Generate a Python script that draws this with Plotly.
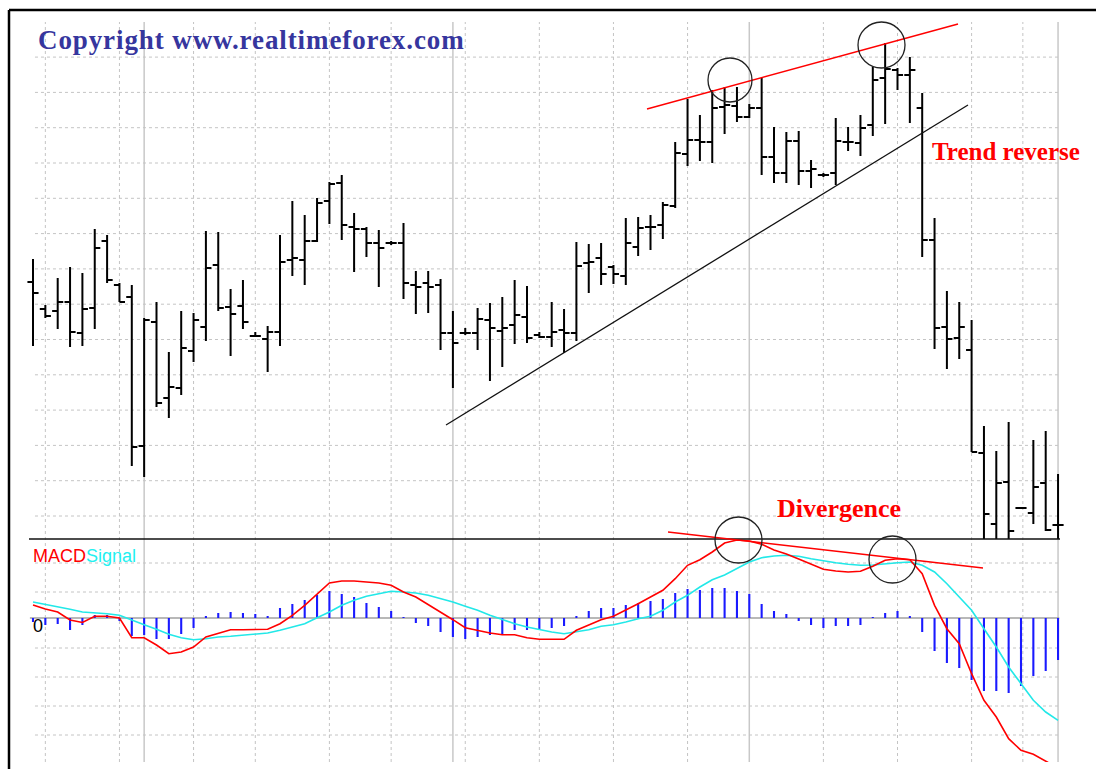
import plotly.graph_objects as go

# ---------------- data ----------------
bar_index = list(range(84))

open_price = [1.2318, 1.2291, 1.2289, 1.2298, 1.2267, 1.2292, 1.2359, 1.2315, 1.2303, 1.2154,
              1.2278, 1.2202, 1.2212, 1.2249, 1.2273, 1.2335, 1.2293, 1.2294, 1.2264, 1.2261,
              1.2268, 1.2340, 1.2340, 1.2359, 1.2399, 1.2417, 1.2373, 1.2371, 1.2357, 1.2357,
              1.2357, 1.2315, 1.2317, 1.2315, 1.2267, 1.2267, 1.2267, 1.2280, 1.2269, 1.2275,
              1.2283, 1.2265, 1.2263, 1.2270, 1.2267, 1.2337, 1.2342, 1.2333, 1.2324, 1.2353,
              1.2373, 1.2375, 1.2394, 1.2446, 1.2460, 1.2458, 1.2493, 1.2494, 1.2483, 1.2492,
              1.2443, 1.2427, 1.2459, 1.2429, 1.2425, 1.2427, 1.2458, 1.2457, 1.2475, 1.2522,
              1.2530, 1.2525, 1.2492, 1.2360, 1.2273, 1.2262, 1.2250, 1.2147, 1.2076, 1.2118,
              1.2092, 1.2087, 1.2117, 1.2075]
high_price = [1.2341, 1.2295, 1.2322, 1.2333, 1.2327, 1.2371, 1.2365, 1.2317, 1.2315, 1.2282,
              1.2298, 1.2248, 1.2289, 1.2287, 1.2369, 1.2368, 1.2311, 1.2320, 1.2268, 1.2274,
              1.2365, 1.2399, 1.2385, 1.2402, 1.2418, 1.2425, 1.2387, 1.2373, 1.2370, 1.2359,
              1.2377, 1.2329, 1.2329, 1.2321, 1.2289, 1.2272, 1.2292, 1.2297, 1.2303, 1.2320,
              1.2314, 1.2268, 1.2298, 1.2291, 1.2358, 1.2356, 1.2357, 1.2335, 1.2382, 1.2383,
              1.2385, 1.2398, 1.2458, 1.2501, 1.2485, 1.2510, 1.2513, 1.2513, 1.2496, 1.2522,
              1.2473, 1.2468, 1.2469, 1.2440, 1.2427, 1.2482, 1.2473, 1.2485, 1.2533, 1.2557,
              1.2532, 1.2543, 1.2507, 1.2382, 1.2309, 1.2298, 1.2280, 1.2174, 1.2149, 1.2178,
              1.2093, 1.2160, 1.2169, 1.2126]
low_price = [1.2254, 1.2282, 1.2271, 1.2253, 1.2254, 1.2271, 1.2317, 1.2298, 1.2134, 1.2123,
             1.2193, 1.2182, 1.2205, 1.2238, 1.2259, 1.2289, 1.2244, 1.2271, 1.2263, 1.2228,
             1.2254, 1.2324, 1.2315, 1.2358, 1.2376, 1.2360, 1.2328, 1.2343, 1.2313, 1.2355,
             1.2301, 1.2286, 1.2287, 1.2250, 1.2212, 1.2265, 1.2250, 1.2219, 1.2233, 1.2256,
             1.2257, 1.2262, 1.2253, 1.2247, 1.2259, 1.2307, 1.2315, 1.2316, 1.2315, 1.2344,
             1.2350, 1.2361, 1.2392, 1.2434, 1.2439, 1.2437, 1.2466, 1.2478, 1.2482, 1.2425,
             1.2417, 1.2417, 1.2415, 1.2412, 1.2423, 1.2415, 1.2449, 1.2444, 1.2464, 1.2476,
             1.2510, 1.2477, 1.2343, 1.2251, 1.2231, 1.2241, 1.2148, 1.2040, 1.2040, 1.2040,
             1.2091, 1.2076, 1.2069, 1.2040]
close_price = [1.2307, 1.2284, 1.2298, 1.2268, 1.2291, 1.2352, 1.2320, 1.2298, 1.2153, 1.2280,
               1.2197, 1.2213, 1.2252, 1.2280, 1.2332, 1.2292, 1.2286, 1.2278, 1.2264, 1.2268,
               1.2338, 1.2342, 1.2359, 1.2397, 1.2416, 1.2375, 1.2371, 1.2357, 1.2352, 1.2357,
               1.2317, 1.2313, 1.2313, 1.2267, 1.2257, 1.2267, 1.2281, 1.2272, 1.2272, 1.2285,
               1.2262, 1.2263, 1.2268, 1.2267, 1.2334, 1.2338, 1.2326, 1.2326, 1.2357, 1.2372,
               1.2373, 1.2395, 1.2447, 1.2460, 1.2458, 1.2492, 1.2495, 1.2483, 1.2492, 1.2443,
               1.2427, 1.2459, 1.2429, 1.2431, 1.2425, 1.2459, 1.2458, 1.2472, 1.2520, 1.2531,
               1.2525, 1.2530, 1.2360, 1.2272, 1.2261, 1.2273, 1.2148, 1.2086, 1.2117, 1.2069,
               1.2092, 1.2113, 1.2070, 1.2075]

macd = [1.3, 0.9, 0.6, -0.2, -0.45, 0.17, 0.17, 0.0, -1.97, -1.97,
        -2.7, -3.57, -3.4, -2.9, -1.9, -1.5, -1.17, -1.17, -1.17, -1.13,
        -0.57, 0.27, 1.27, 2.4, 3.5, 3.7, 3.7, 3.6, 3.5, 3.27,
        2.6, 2.1, 1.37, 0.6, -0.17, -0.97, -1.23, -1.5, -1.67, -1.67,
        -1.97, -2.13, -2.13, -2.13, -1.23, -0.67, -0.17, 0.17, 0.77, 1.43,
        2.1, 2.77, 3.93, 5.27, 5.83, 6.6, 7.5, 7.8, 7.7, 7.37,
        6.8, 6.4, 5.9, 5.4, 4.87, 4.7, 4.6, 4.67, 5.17, 5.77,
        5.93, 5.83, 4.43, 1.27, -1.07, -2.57, -5.57, -8.23, -9.9, -12.07,
        -13.23, -13.63, -14.3, -15.0]
signal = [1.6, 1.37, 1.1, 0.87, 0.6, 0.53, 0.43, 0.27, -0.23, -0.67,
          -1.13, -1.63, -1.97, -2.17, -2.07, -1.9, -1.83, -1.73, -1.57, -1.5,
          -1.23, -0.9, -0.57, 0.03, 0.6, 1.27, 1.77, 2.17, 2.43, 2.67,
          2.6, 2.5, 2.27, 1.93, 1.6, 1.17, 0.77, 0.27, -0.17, -0.57,
          -0.9, -1.17, -1.4, -1.57, -1.4, -1.17, -0.83, -0.67, -0.4, -0.07,
          0.17, 0.77, 1.6, 2.27, 3.1, 3.83, 4.3, 4.93, 5.6, 6.03,
          6.2, 6.27, 6.17, 5.93, 5.7, 5.53, 5.37, 5.27, 5.3, 5.43,
          5.53, 5.6, 5.27, 4.6, 3.43, 2.1, 0.77, -1.07, -2.9, -4.9,
          -6.57, -8.23, -9.4, -10.23]
histogram = [-0.4, -0.7, -0.6, -1.2, -0.7, 0.3, 0.3, -0.3, -1.8, -1.7,
             -2.1, -2.1, -1.6, -1.0, 0.2, 0.5, 0.6, 0.5, 0.4, 0.2,
             1.0, 1.4, 1.8, 2.3, 2.7, 2.4, 2.1, 1.5, 1.1, 0.7,
             0.1, -0.5, -0.8, -1.4, -1.9, -2.1, -1.9, -1.7, -1.6, -1.2,
             -1.2, -1.1, -1.0, -0.8, 0.2, 0.7, 1.0, 1.0, 1.3, 1.5,
             1.7, 1.9, 2.5, 2.9, 2.8, 3.0, 3.0, 2.7, 2.4, 1.4,
             0.7, 0.4, -0.3, -0.7, -1.0, -0.8, -0.8, -0.7, 0.03, 0.5,
             0.7, 0.2, -1.4, -3.3, -4.5, -5.0, -6.2, -7.3, -7.3, -7.5,
             -6.8, -5.8, -5.3, -4.2]

# time separators (bar positions) of the chart grid
dashed_grid_bars = [1, 7, 13, 18, 24, 29, 35, 41, 47, 53, 64, 70, 76, 80.15]
solid_grid_bars = [9, 34, 58, 83]
price_grid_start, price_grid_step, price_grid_count = 1.2084, 0.00353, 14
macd_grid_levels = [-11.7, -8.8, -5.9, -3.0, 2.6, 5.5]

# ---------------- layout helpers (pixel -> paper) ----------------
W, H = 1096, 769
def px(x):
    return x / W
def py(y):
    return 1 - y / H

BAR0, STEP = 33.0, 12.35
x_range = [-BAR0 / STEP, (W - BAR0) / STEP]

fig = go.Figure()
fig.add_trace(go.Ohlc(
    x=bar_index, open=open_price, high=high_price, low=low_price, close=close_price,
    increasing=dict(line=dict(color="#000000", width=2)),
    decreasing=dict(line=dict(color="#000000", width=2)),
    tickwidth=0.45, xaxis="x", yaxis="y", hoverinfo="skip"))
fig.add_trace(go.Bar(
    x=bar_index, y=histogram, width=0.17, xaxis="x", yaxis="y2",
    marker=dict(color="#1a1aff", line=dict(width=0)), hoverinfo="skip"))
fig.add_trace(go.Scatter(
    x=bar_index, y=signal, mode="lines", xaxis="x", yaxis="y2",
    line=dict(color="#22e8e8", width=1.6), hoverinfo="skip"))
fig.add_trace(go.Scatter(
    x=bar_index, y=macd, mode="lines", xaxis="x", yaxis="y2",
    line=dict(color="#ff0000", width=1.6), hoverinfo="skip"))

shapes = []
# vertical grid
for b in dashed_grid_bars:
    shapes.append(dict(type="line", xref="x", yref="paper", x0=b, x1=b, y0=py(762), y1=py(22),
                       line=dict(color="#c4c4c4", width=1, dash="3px,3px"), layer="below"))
for b in solid_grid_bars:
    shapes.append(dict(type="line", xref="x", yref="paper", x0=b, x1=b, y0=py(762), y1=py(22),
                       line=dict(color="#c8c8c8", width=1.5), layer="below"))
# horizontal grid, price panel
for k in range(price_grid_count):
    lvl = price_grid_start + k * price_grid_step
    shapes.append(dict(type="line", xref="x", yref="y", x0=0.16, x1=83, y0=lvl, y1=lvl,
                       line=dict(color="#c4c4c4", width=1, dash="3px,3px"), layer="below"))
# horizontal grid, macd panel
for lvl in macd_grid_levels:
    shapes.append(dict(type="line", xref="x", yref="y2", x0=0.16, x1=83, y0=lvl, y1=lvl,
                       line=dict(color="#c4c4c4", width=1, dash="3px,3px"), layer="below"))
# zero line
shapes.append(dict(type="line", xref="x", yref="y2", x0=-0.25, x1=83.1, y0=0, y1=0,
                   line=dict(color="#a0a0a0", width=1.5), layer="below"))
# panel separator
shapes.append(dict(type="line", xref="paper", yref="paper", x0=px(29), x1=px(1060), y0=py(539), y1=py(539),
                   line=dict(color="#111111", width=1.5)))
# outer frame
shapes.append(dict(type="line", xref="paper", yref="paper", x0=px(9), x1=px(9), y0=0, y1=py(10),
                   line=dict(color="#000000", width=2.5)))
shapes.append(dict(type="line", xref="paper", yref="paper", x0=px(9), x1=1, y0=py(10), y1=py(10),
                   line=dict(color="#000000", width=2.5)))
# drawn trend lines
shapes.append(dict(type="line", xref="paper", yref="paper", x0=px(647), y0=py(109), x1=px(958), y1=py(24),
                   line=dict(color="#ff0000", width=1.5)))
shapes.append(dict(type="line", xref="paper", yref="paper", x0=px(446), y0=py(425), x1=px(968), y1=py(105),
                   line=dict(color="#111111", width=1.3)))
shapes.append(dict(type="line", xref="paper", yref="paper", x0=px(668), y0=py(532), x1=px(983), y1=py(568),
                   line=dict(color="#ff0000", width=1.5)))
# circles
for (x0, y0, x1, y1) in [(708, 58, 752, 102), (858, 22, 905, 68), (715, 517, 762, 563), (869, 536, 916, 583)]:
    shapes.append(dict(type="circle", xref="paper", yref="paper", x0=px(x0), x1=px(x1), y0=py(y1), y1=py(y0),
                       line=dict(color="#222222", width=1.3)))

annotations = [
    dict(text='<span style="letter-spacing:0.9px;font-weight:600">Copyright www.realtimeforex.com</span>',
         x=px(36), y=py(40), xref="paper", yref="paper", xanchor="left", yanchor="middle", showarrow=False,
         font=dict(family="Liberation Serif, Times New Roman, serif", size=27, color="#36369e")),
    dict(text="<b>Trend reverse</b>", x=px(930), y=py(151), xref="paper", yref="paper",
         xanchor="left", yanchor="middle", showarrow=False,
         font=dict(family="Liberation Serif, Times New Roman, serif", size=25, color="#ff0000")),
    dict(text="<b>Divergence</b>", x=px(775), y=py(508), xref="paper", yref="paper",
         xanchor="left", yanchor="middle", showarrow=False,
         font=dict(family="Liberation Serif, Times New Roman, serif", size=26, color="#ff0000")),
    dict(text='<span style="color:#ff0000">MACD</span><span style="color:#22f0f0">Signal</span>',
         x=px(31), y=py(556), xref="paper", yref="paper", xanchor="left", yanchor="middle", showarrow=False,
         font=dict(family="Liberation Sans, Arial, sans-serif", size=18)),
    dict(text="0", x=px(31), y=py(626), xref="paper", yref="paper", xanchor="left", yanchor="middle",
         showarrow=False, font=dict(family="Liberation Sans, Arial, sans-serif", size=18, color="#000000")),
]

fig.update_layout(
    width=W, height=H, margin=dict(l=0, r=0, t=0, b=0),
    paper_bgcolor="white", plot_bgcolor="white", showlegend=False,
    xaxis=dict(range=x_range, visible=False, rangeslider=dict(visible=False), fixedrange=True),
    yaxis=dict(domain=[py(539), py(10)], range=[1.2061, 1.2590], visible=False, fixedrange=True),
    yaxis2=dict(domain=[py(762), py(539)], range=[-14.4, 7.9], visible=False, anchor="x", fixedrange=True),
    shapes=shapes, annotations=annotations,
)

fig.write_html("out.html", config={"displayModeBar": False},
               post_script="document.body.style.margin='0';document.body.style.overflow='hidden';")
